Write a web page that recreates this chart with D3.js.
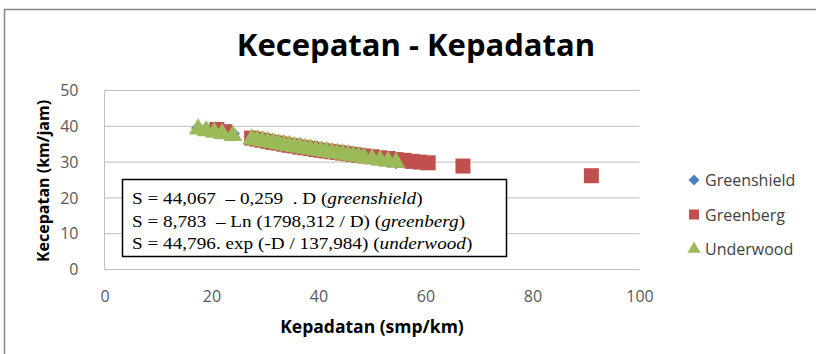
<!DOCTYPE html>
<html>
<head>
<meta charset="utf-8">
<script src="https://cdn.jsdelivr.net/npm/d3@7"></script>
<style>
  body { margin: 0; background: #fff; }
  svg text { font-family: "Open Sans", Lato, sans-serif; }
</style>
</head>
<body>
<div id="chart"></div>
<script>

var width = 816;
var height = 354;

// kepadatan (smp/km) and kecepatan (km/jam)
var densShield = [17.5, 19, 20.5, 22, 24, 27.5, 28.5, 29.5, 30.5, 31.5, 32.5, 33.5, 34.5, 35.5, 36.5, 37.5,
                  38.5, 39.5, 40.5, 41.5, 42.5, 43.5, 44.5, 45.5, 46.5, 47.5, 48.5, 50, 51.5, 53, 54.5];
var speedShield = [39.5, 39.2, 38.8, 38.4, 37.9, 36.9, 36.7, 36.4, 36.2, 35.9, 35.7, 35.4, 35.1, 34.9, 34.6, 34.4,
                   34.1, 33.8, 33.6, 33.3, 33.1, 32.8, 32.5, 32.3, 32.0, 31.8, 31.5, 31.1, 30.7, 30.3, 30.0];

var densBerg = [21, 22.5, 27.5, 28.5, 29.5, 30.5, 31.5, 32.5, 33.5, 34.5, 35.5, 36.5, 37.5, 38.5, 39.5, 40.5,
                41.5, 42.5, 43.5, 44.5, 45.5, 46.5, 47.5, 48.5, 50, 51.5, 53, 54.5, 56, 57.5, 59, 60.5, 67, 91];
var speedBerg = [39.1, 38.5, 36.7, 36.4, 36.1, 35.8, 35.5, 35.3, 35.0, 34.7, 34.5, 34.2, 34.0, 33.8, 33.5, 33.3,
                 33.1, 32.9, 32.7, 32.5, 32.3, 32.1, 31.9, 31.7, 31.5, 31.2, 31.0, 30.7, 30.5, 30.2, 30.0, 29.8, 28.9, 26.2];

var densWood = [17.5, 19, 20.5, 22, 24, 27.5, 28.5, 29.5, 30.5, 31.5, 32.5, 33.5, 34.5, 35.5, 36.5, 37.5,
                38.5, 39.5, 40.5, 41.5, 42.5, 43.5, 44.5, 45.5, 46.5, 47.5, 48.5, 50, 51.5, 53, 54.5];
var speedWood = [39.5, 39.0, 38.6, 38.2, 37.7, 36.7, 36.4, 36.2, 35.9, 35.7, 35.4, 35.1, 34.9, 34.6, 34.4, 34.1,
                 33.9, 33.6, 33.4, 33.2, 32.9, 32.7, 32.5, 32.2, 32.0, 31.8, 31.5, 31.2, 30.8, 30.5, 30.2];

var xTicks = [0, 20, 40, 60, 80, 100];
var yTicks = [0, 10, 20, 30, 40, 50];
var seriesNames = ["Greenshield", "Greenberg", "Underwood"];
var equations = [
  ["S = 44,067  \u2013 0,259  . D (", "greenshield", ")"],
  ["S = 8,783  \u2013 Ln (1798,312 / D) (", "greenberg", ")"],
  ["S = 44,796. exp (-D / 137,984) (", "underwood", ")"]
];

var colors = {Greenshield: "#4F81BD", Greenberg: "#C0504D", Underwood: "#9BBB59"};

var svg = d3.select("#chart").append("svg")
  .attr("width", width)
  .attr("height", height);

// chart frame
svg.append("rect")
  .attr("x", 4.5).attr("y", 9.5)
  .attr("width", 830).attr("height", 360)
  .attr("fill", "#fff")
  .attr("stroke", "#868686")
  .attr("stroke-width", 1.5);

var x = d3.scaleLinear().domain([0, 100]).range([104.5, 639.5]);
var y = d3.scaleLinear().domain([0, 50]).range([269.5, 90.5]);

// grid
svg.append("g")
  .selectAll("line")
  .data(yTicks)
  .enter().append("line")
  .attr("x1", x(0)).attr("x2", x(100))
  .attr("y1", function(d) { return y(d); })
  .attr("y2", function(d) { return y(d); })
  .attr("stroke", "#BFBFBF")
  .attr("stroke-width", 1);

svg.append("line")
  .attr("x1", x(0)).attr("x2", x(0))
  .attr("y1", y(0)).attr("y2", y(50))
  .attr("stroke", "#BFBFBF");

// axes
var xAxis = svg.append("g")
  .attr("transform", "translate(0," + y(0) + ")")
  .call(d3.axisBottom(x).tickValues(xTicks).tickSize(0).tickPadding(21));
xAxis.select(".domain").remove();
xAxis.selectAll("text")
  .style("font-family", "'Open Sans', sans-serif")
  .style("font-size", "16px")
  .attr("fill", "#595959");

var yAxis = svg.append("g")
  .attr("transform", "translate(" + x(0) + ",0)")
  .call(d3.axisLeft(y).tickValues(yTicks).tickSize(0).tickPadding(26));
yAxis.select(".domain").remove();
yAxis.selectAll("text")
  .style("font-family", "'Open Sans', sans-serif")
  .style("font-size", "16px")
  .attr("fill", "#595959");

// titles
svg.append("text")
  .attr("x", 416).attr("y", 56)
  .attr("text-anchor", "middle")
  .style("font-size", "31px")
  .style("font-weight", "bold")
  .attr("fill", "#000")
  .text("Kecepatan - Kepadatan");

svg.append("text")
  .attr("x", 372).attr("y", 333)
  .attr("text-anchor", "middle")
  .style("font-size", "17.5px")
  .style("font-weight", "bold")
  .attr("fill", "#000")
  .text("Kepadatan (smp/km)");

svg.append("text")
  .attr("transform", "translate(49,181) rotate(-90)")
  .attr("text-anchor", "middle")
  .style("font-size", "16px")
  .style("font-weight", "bold")
  .attr("fill", "#000")
  .text("Kecepatan (km/jam)");

// markers
var diamond = d3.symbol().type(d3.symbolSquare).size(100);
var square = d3.symbol().type(d3.symbolSquare).size(225);
var triangle = d3.symbol().type(d3.symbolTriangle).size(150);

svg.append("g").selectAll("path")
  .data(densShield)
  .enter().append("path")
  .attr("d", diamond)
  .attr("transform", function(d, i) { return "translate(" + x(d) + "," + y(speedShield[i]) + ") rotate(45)"; })
  .attr("fill", colors.Greenshield);

svg.append("g").selectAll("path")
  .data(densBerg)
  .enter().append("path")
  .attr("d", square)
  .attr("transform", function(d, i) { return "translate(" + x(d) + "," + y(speedBerg[i]) + ")"; })
  .attr("fill", colors.Greenberg);

svg.append("g").selectAll("path")
  .data(densWood)
  .enter().append("path")
  .attr("d", triangle)
  .attr("transform", function(d, i) { return "translate(" + x(d) + "," + (y(speedWood[i]) + 1) + ")"; })
  .attr("fill", colors.Underwood);

// equation box
svg.append("rect")
  .attr("x", 122.5).attr("y", 179.5)
  .attr("width", 384).attr("height", 77)
  .attr("fill", "#fff")
  .attr("stroke", "#000")
  .attr("stroke-width", 1.5);

var eq = svg.append("g");
equations.forEach(function(e, i) {
  var t = eq.append("text")
    .attr("transform", "translate(132," + (204 + i * 22.5) + ") scale(1.13,1)")
    .style("font-family", "'Liberation Serif', 'Times New Roman', serif")
    .style("font-size", "17px")
    .style("white-space", "pre")
    .attr("fill", "#000");
  t.append("tspan").text(e[0]);
  t.append("tspan").style("font-style", "italic").text(e[1]);
  t.append("tspan").text(e[2]);
});

// legend
var legend = svg.append("g");
seriesNames.forEach(function(name, i) {
  var ly = 180 + i * 34.5;
  var sym = name == "Greenshield" ? d3.symbol().type(d3.symbolSquare).size(60)
          : name == "Greenberg" ? d3.symbol().type(d3.symbolSquare).size(100)
          : d3.symbol().type(d3.symbolTriangle).size(75);
  legend.append("path")
    .attr("d", sym)
    .attr("transform", "translate(694," + ly + ")" + (name == "Greenshield" ? " rotate(45)" : ""))
    .attr("fill", colors[name]);
  legend.append("text")
    .attr("x", 705).attr("y", ly + 6)
    .style("font-size", "16px")
    .attr("fill", "#404040")
    .text(name);
});

</script>
</body>
</html>
